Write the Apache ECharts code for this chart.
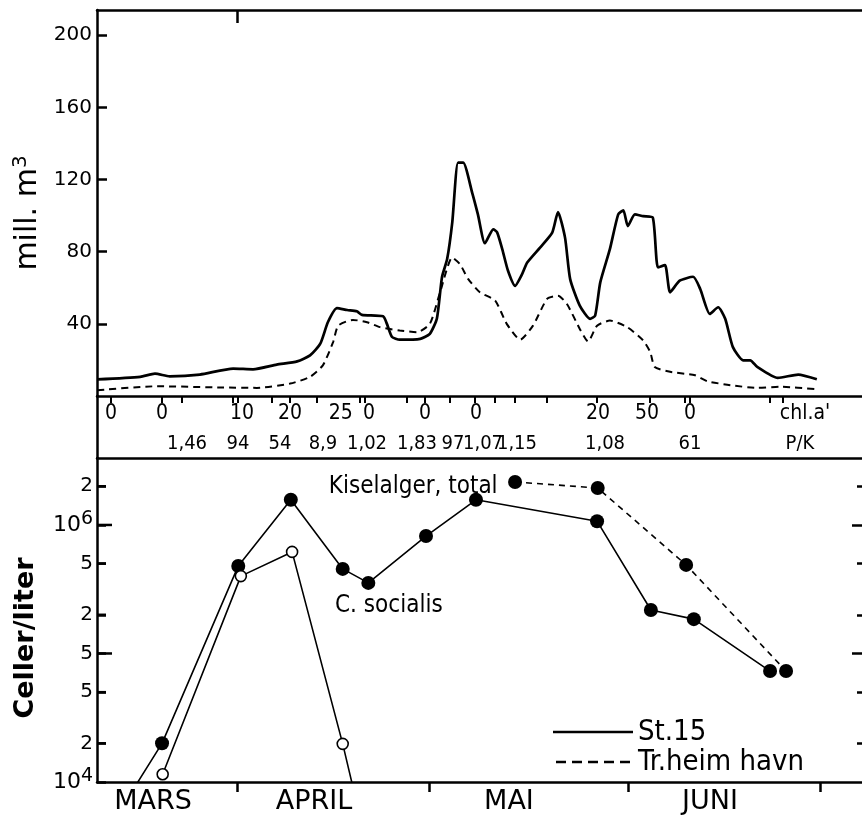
<!DOCTYPE html>
<html>
<head>
<meta charset="utf-8">
<script src="https://cdn.jsdelivr.net/npm/echarts@6/dist/echarts.min.js"></script>
<style>html,body{margin:0;padding:0;background:#fff}#c{width:862px;height:815px}</style>
</head>
<body>
<div id="c"></div>
<script>
// ---- DATA (x in days counted from 1 March = day 0) ----
const st15Days = [9.2,15.9,18.2,20.5,25.2,30.4,33.5,37.2,40.4,42.4,44.0,45.2,46.6,48.2,49.7,50.5,53.8,54.4,55.2,56.4,59.6,61.1,62.2,63.0,63.8,64.6,65.5,66.3,67.7,68.6,69.7,71.0,71.6,72.4,73.3,74.4,75.5,76.3,78.3,80.2,81.1,82.2,83.0,84.5,86.1,86.9,87.7,89.2,90.5,91.3,92.0,93.1,94.4,95.9,96.7,97.8,98.6,100.1,102.2,103.3,104.8,106.1,107.2,108.4,110.0,111.1,112.2,115.4,118.6,121.5];
const st15Mill = [9.2,10.6,12.4,10.9,11.9,15.2,14.8,17.4,19.2,22.5,29,41,48.7,47.7,47,45,44.2,40,32.7,31.2,31.7,34.5,43,66,75.9,96.3,129.4,129.4,112.8,100.7,84.7,92.4,90.7,81.4,69.4,61.1,67.6,74,82.3,90.6,102,87.8,64.8,50.1,42.8,44.6,63,81.4,100.7,102.9,94.2,100.7,99.7,98.9,71.3,72.6,57.5,63.9,66.1,59.3,45.5,49.2,42.8,27.1,19.8,19.8,16.1,10,11.9,9.3];
const havnDays = [9.2,18.5,28.8,34.1,39.3,42.4,44.4,46.0,46.8,49.1,51.3,53.3,56.4,59.1,61.1,62.7,64.6,65.8,67.1,68.9,71.3,73.1,75.2,77.2,79.4,81.1,82.5,84.5,85.8,87.2,89.2,91.9,94.4,95.5,96.2,98.6,102.5,104.4,108.0,112.2,115.8,121.5];
const havnMill = [3.2,5.4,4.7,4.5,6.9,10.6,17,29.9,39,42.2,40.9,38.2,36.3,35.4,40,57.5,76.8,73.1,64.8,57.5,52.9,40,31.2,39,53.8,55.6,51,37.2,30.2,39,41.8,38.2,30.8,24.4,16.1,13.4,11.5,8.2,6,4.5,5.1,3.8];
const millTicks = [40,80,120,160,200];

const sampleDays = [11.33,19.29,22.42,30.38,31.16,36.46,39.27,43.49,50.2,50.98,57.53,60.34,64.24,68.15,71.27,74.39,79.38,87.19,95.46,100.92,101.7,114.19,116.22];
const chlPos = [11.33,19.29,31.78,39.27,47.2,51.6,60.34,68.3,87.35,94.99,101.7,119.65];
const chlLabels = ['0','0','10','20','25','0','0','0','20','50','0',"chl.a'"];
const pkPos = [23.2,31.16,37.71,44.42,51.29,59.09,64.71,69.4,74.7,88.44,101.7,118.87];
const pkLabels = ['1,46','94','54','8,9','1,02','1,83','97','1,07','1,15','1,08','61','P/K'];

const kiselDays = [11.3,19.3,31.2,39.4,47.5,51.5,60.5,68.3,87.2,95.6,102.3,114.2];
const kiselCells = [4600,20000,480000,1570000,455000,354000,820000,1570000,1070000,218000,185000,73000];
const socialisDays = [19.4,31.6,39.6,47.5,51.5];
const socialisCells = [11500,400000,617000,19800,2850];
const havnKiselDays = [74.4,87.3,101.1,116.7];
const havnKiselCells = [2160000,1940000,489000,73000];
const cellTicks = [2e6,1e6,5e5,2e5,1e5,5e4,2e4,1e4];
const cellLabels = ['2','{b|10}{s|6}','5','2','5','5','2','{b|10}{s|4}'];
const majorCellTicks = [1e6,1e5];
const minorCellTicks = [2e6,5e5,2e5,5e4,2e4];

const monthBounds = [31,61,92,122];
const monthPos = [17.89,43.02,73.45,104.83];
const monthLabels = ['MARS','APRIL','MAI','JUNI'];

// ---- CHART ----
const XMIN = 9.15, XMAX = 128.55;
const YLMIN = 4, YLMAX = 6.521;
const FONT = 'DejaVu Sans';
const CFONT = 'DejaVu Sans Condensed';
const AX = {color:'#000', width:2.5};
function lookup(vals, labels){
  return function(v){
    for (let i=0;i<vals.length;i++) if (Math.abs(vals[i]-v)<1e-6) return labels[i];
    return '';
  };
}
function xa(extra){
  return Object.assign({type:'value', min:XMIN, max:XMAX, splitLine:{show:false},
    axisLine:{show:false}, axisTick:{show:false}, axisLabel:{show:false}}, extra);
}
function ya(extra){
  return Object.assign({type:'value', splitLine:{show:false},
    axisLine:{show:false}, axisTick:{show:false}, axisLabel:{show:false}}, extra);
}
const lg = v => Math.log10(v);
const zip = (a,b,f) => a.map((d,i)=>[d, f ? f(b[i]) : b[i]]);
const tickStyle = {color:'#000', width:2.5};

const chart = echarts.init(document.getElementById('c'), null, {renderer:'canvas'});
const option = {
  animation:false,
  backgroundColor:'#fff',
  textStyle:{fontFamily:FONT, color:'#000'},
  grid:[
    {left:97, right:0, top:10, height:386},
    {left:97, right:0, top:396, height:62},
    {left:97, right:0, top:458, height:325}
  ],
  xAxis:[
    xa({gridIndex:0, position:'bottom', axisLine:{show:true, lineStyle:AX},
        axisTick:{show:true, inside:false, length:7, customValues:sampleDays, lineStyle:{color:'#000', width:2}}}),
    xa({gridIndex:0, position:'top', axisLine:{show:true, lineStyle:AX},
        axisTick:{show:true, inside:true, length:13, customValues:[31], lineStyle:tickStyle}}),
    xa({gridIndex:1, position:'top', axisLabel:{show:true, inside:true, margin:7, customValues:chlPos,
        formatter:lookup(chlPos, chlLabels), fontFamily:CFONT, fontSize:21, color:'#000'}}),
    xa({gridIndex:1, position:'top', axisLabel:{show:true, inside:true, margin:38, customValues:pkPos,
        formatter:lookup(pkPos, pkLabels), fontFamily:CFONT, fontSize:20, color:'#000'}}),
    xa({gridIndex:2, position:'bottom', axisLine:{show:true, lineStyle:AX},
        axisTick:{show:true, inside:false, length:10, customValues:monthBounds, lineStyle:tickStyle}}),
    xa({gridIndex:2, position:'bottom', axisLabel:{show:true, margin:6, customValues:monthPos,
        formatter:lookup(monthPos, monthLabels), fontFamily:FONT, fontSize:27, color:'#000'}}),
    xa({gridIndex:2, position:'top', axisLine:{show:true, lineStyle:AX}})
  ],
  yAxis:[
    ya({gridIndex:0, position:'left', min:0, max:214, axisLine:{show:true, lineStyle:AX},
        axisTick:{show:true, inside:true, length:10, customValues:millTicks, lineStyle:tickStyle},
        axisLabel:{show:true, margin:5, customValues:millTicks, fontFamily:FONT, fontSize:20, color:'#000'},
        name:'{a|mill. m}{s|3}', nameLocation:'middle', nameRotate:90, nameGap:46,
        nameTextStyle:{padding:[0,20,0,0], rich:{a:{fontFamily:FONT, fontSize:30, color:'#000'}, s:{fontFamily:FONT, fontSize:20, color:'#000', padding:[0,0,14,0]}}}}),
    ya({gridIndex:1, position:'left', min:0, max:1, axisLine:{show:true, lineStyle:AX}}),
    ya({gridIndex:2, position:'left', min:YLMIN, max:YLMAX, axisLine:{show:true, lineStyle:AX},
        axisTick:{show:true, inside:true, length:9, customValues:cellTicks.map(lg), lineStyle:tickStyle},
        axisLabel:{show:true, margin:4, customValues:cellTicks.map(lg), formatter:lookup(cellTicks.map(lg), cellLabels),
          fontFamily:FONT, fontSize:20, color:'#000',
          rich:{b:{fontFamily:FONT, fontSize:22, color:'#000'}, s:{fontFamily:FONT, fontSize:19, color:'#000', padding:[0,0,12,0]}}},
        name:'Celler/liter', nameLocation:'middle', nameRotate:90, nameGap:58,
        nameTextStyle:{fontFamily:FONT, fontSize:27, fontWeight:'bold', color:'#000', padding:[0,36,0,0]}}),
    ya({gridIndex:2, position:'right', min:YLMIN, max:YLMAX,
        axisTick:{show:true, inside:true, length:5, customValues:minorCellTicks.map(lg), lineStyle:tickStyle}}),
    ya({gridIndex:2, position:'right', min:YLMIN, max:YLMAX,
        axisTick:{show:true, inside:true, length:10, customValues:majorCellTicks.map(lg), lineStyle:tickStyle}})
  ],
  legend:{
    left:553, top:717, orient:'vertical', padding:0, itemGap:0, selectedMode:false,
    itemWidth:80, itemHeight:2.5,
    textStyle:{fontFamily:CFONT, fontSize:29, color:'#000', lineHeight:30},
    data:[
      {name:'St.15', icon:'rect', itemStyle:{color:'#000'}},
      {name:'Tr.heim havn', icon:'path://M0,0h10v2.5h-10zM16,0h10v2.5h-10zM32,0h10v2.5h-10zM48,0h10v2.5h-10zM64,0h10v2.5h-10z', itemStyle:{color:'#000'}}
    ]
  },
  series:[
    {name:'St.15', type:'line', xAxisIndex:0, yAxisIndex:0, data:zip(st15Days, st15Mill),
     symbol:'none', smooth:0.2, color:'#000', lineStyle:{color:'#000', width:2.7}},
    {name:'Tr.heim havn', type:'line', xAxisIndex:0, yAxisIndex:0, data:zip(havnDays, havnMill),
     symbol:'none', smooth:0.2, color:'#000', lineStyle:{color:'#000', width:2, type:[7,5]}},
    {name:'Kiselalger, total St.15', type:'line', xAxisIndex:4, yAxisIndex:2, data:zip(kiselDays, kiselCells, lg),
     symbol:'circle', symbolSize:14, color:'#000', itemStyle:{color:'#000'}, lineStyle:{color:'#000', width:1.6},
     markPoint:{symbol:'circle', symbolSize:1, itemStyle:{color:'rgba(0,0,0,0)'},
       label:{show:true, position:'inside', fontFamily:CFONT, fontSize:24, color:'#000'},
       data:[{coord:[58.5, 6.296], label:{formatter:'Kiselalger, total'}}]}},
    {name:'C. socialis St.15', type:'line', xAxisIndex:4, yAxisIndex:2, data:zip(socialisDays, socialisCells, lg),
     symbol:'circle', symbolSize:11, color:'#000', itemStyle:{color:'#fff', borderColor:'#000', borderWidth:1.6},
     lineStyle:{color:'#000', width:1.6},
     markPoint:{symbol:'circle', symbolSize:1, itemStyle:{color:'rgba(0,0,0,0)'},
       label:{show:true, position:'inside', fontFamily:CFONT, fontSize:24, color:'#000'},
       data:[{coord:[54.7, 5.37], label:{formatter:'C. socialis'}}]}},
    {name:'Kiselalger, total Tr.heim havn', type:'line', xAxisIndex:4, yAxisIndex:2, data:zip(havnKiselDays, havnKiselCells, lg),
     symbol:'circle', symbolSize:14, color:'#000', itemStyle:{color:'#000'}, lineStyle:{color:'#000', width:1.6, type:[6,5]}}
  ]
};
chart.setOption(option);

// Left-edge inward ticks of the lower panel (minor and longer decade ticks), placed through the grid's scales
const tickEls = [];
[].concat(minorCellTicks.map(v => [v, 9]), majorCellTicks.map(v => [v, 15])).forEach(([v, len]) => {
  const p = chart.convertToPixel({gridIndex:2}, [XMIN, lg(v)]);
  if (p && isFinite(p[0]) && isFinite(p[1])) {
    tickEls.push({type:'rect', zlevel:1, z:100, shape:{x:p[0], y:p[1] - 1.25, width:len, height:2.5}, style:{fill:'#000'}});
  }
});
if (tickEls.length) chart.setOption({graphic:{elements:tickEls}});
</script>
</body>
</html>
